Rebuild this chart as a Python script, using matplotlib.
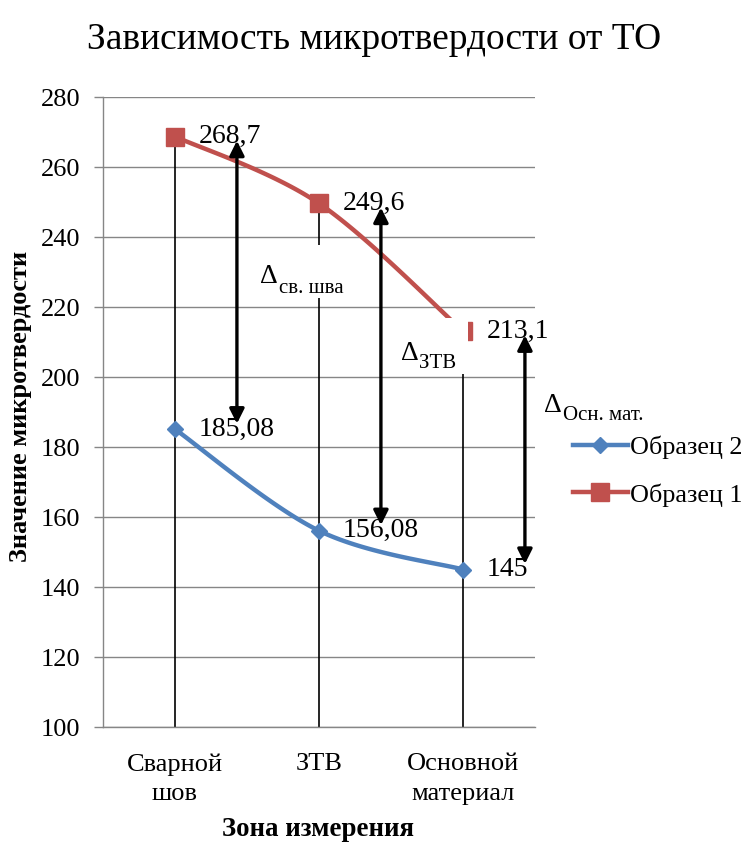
import numpy as np
import matplotlib
matplotlib.use("Agg")
import matplotlib.pyplot as plt
from matplotlib.lines import Line2D
from matplotlib.patches import Rectangle

# Measurement zones and microhardness values
zones = ["Сварной\nшов", "ЗТВ", "Основной\nматериал"]
sample1 = [268.7, 249.6, 213.1]
sample2 = [185.08, 156.08, 145]
labels1 = ["268,7", "249,6", "213,1"]
labels2 = ["185,08", "156,08", "145"]
yticks = [100, 120, 140, 160, 180, 200, 220, 240, 260, 280]
delta_main = "\u0394"
delta_subs = ["св. шва", "ЗТВ", "Осн. мат."]

RED = "#C0504D"
BLUE = "#4F81BD"
GRID = "#868686"

plt.rcParams["font.family"] = ["Liberation Serif", "DejaVu Serif"]

W, H = 749, 844
fig = plt.figure(figsize=(W / 100, H / 100), dpi=100)
ax = fig.add_axes([103 / W, 1 - 727 / H, (535 - 103) / W, (727 - 97) / H])


def smooth(xs, ys, n=50):
    """Bezier smoothing through the points (Catmull-Rom style tangents)."""
    P = np.column_stack([xs, ys]).astype(float)
    out = []
    for i in range(len(P) - 1):
        p0 = P[i - 1] if i > 0 else P[i]
        p1, p2 = P[i], P[i + 1]
        p3 = P[i + 2] if i + 2 < len(P) else P[i + 1]
        c1 = p1 + (p2 - p0) / 6
        c2 = p2 - (p3 - p1) / 6
        t = np.linspace(0, 1, n)[:, None]
        seg = (1 - t) ** 3 * p1 + 3 * (1 - t) ** 2 * t * c1 + 3 * (1 - t) * t ** 2 * c2 + t ** 3 * p2
        out.append(seg if i == 0 else seg[1:])
    return np.vstack(out)


x = np.arange(len(zones))

ax.set_xlim(-0.5, len(zones) - 0.5)
ax.set_ylim(yticks[0], yticks[-1])
ax.set_yticks(yticks)
ax.set_xticks(x)
ax.set_xticklabels(zones, fontsize=19, linespacing=1.44)
ax.tick_params(axis="y", labelsize=19, length=6.5, color=GRID, width=1, pad=10)
ax.tick_params(axis="x", length=0, pad=19)
ax.grid(axis="y", color=GRID, lw=1)
ax.set_axisbelow(True)
for s in ["top", "right"]:
    ax.spines[s].set_visible(False)
for s in ["left", "bottom"]:
    ax.spines[s].set_color(GRID)
    ax.spines[s].set_linewidth(1)

# Drop lines from the upper series to the category axis
ax.vlines(x, yticks[0], np.maximum(sample1, sample2), color="black", lw=1.2, zorder=1.5)

c1 = smooth(x, sample1)
c2 = smooth(x, sample2)
ax.plot(c2[:, 0], c2[:, 1], color=BLUE, lw=3.2, zorder=3, solid_capstyle="round")
ax.plot(x, sample2, ls="none", marker="D", ms=8.5, color=BLUE, zorder=3.1)
ax.plot(c1[:, 0], c1[:, 1], color=RED, lw=3.2, zorder=3.2, solid_capstyle="round")
ax.plot(x, sample1, ls="none", marker="s", ms=13, color=RED, zorder=3.3)

# Data labels
for xi, v, t in zip(x, sample1, labels1):
    ax.annotate(t, (xi, v), xytext=(17, 0), textcoords="offset points",
                va="center", ha="left", fontsize=20, zorder=5)
for xi, v, t in zip(x, sample2, labels2):
    ax.annotate(t, (xi, v), xytext=(17, 0), textcoords="offset points",
                va="center", ha="left", fontsize=20, zorder=5)

# Difference arrows between the two samples
for xi, top, bot in zip(x, sample1, sample2):
    ax.annotate("", xy=(xi + 0.43, bot), xytext=(xi + 0.43, top),
                arrowprops=dict(arrowstyle="<|-|>", color="black", lw=2.4,
                                mutation_scale=22, shrinkA=3, shrinkB=4),
                zorder=6, annotation_clip=False)


def delta_label(xd, yd, sub, drop, box=None):
    if box is not None:
        ax.add_patch(Rectangle((box[0], box[1]), box[2], box[3], facecolor="white",
                               edgecolor="none", zorder=4))
    d = ax.text(xd, yd, delta_main, fontsize=20, ha="left", va="baseline",
                zorder=5.5, clip_on=False)
    ax.annotate(sub, xy=(1.0, 0.0), xycoords=d, xytext=(0.5, -drop),
                textcoords="offset points", fontsize=15, ha="left",
                va="baseline", zorder=5.5, annotation_clip=False)


delta_label(0.592, 226.9, delta_subs[0], 3, box=(0.557, 222.6, 0.66, 15.1))
delta_label(1.568, 204.9, delta_subs[1], 1.5, box=(1.484, 200.9, 0.551, 16.0))
delta_label(2.564, 190.0, delta_subs[2], 1.5)

fig.text(318 / W, 1 - 829 / H, "Зона измерения", ha="center", va="center",
         fontsize=19.4, fontweight="bold")
fig.text(21 / W, 1 - 406 / H, "Значение микротвердости", ha="center", va="center",
         rotation=90, fontsize=19, fontweight="bold")

fig.text(0.5, 1 - 40 / H, "Зависимость микротвердости от ТО", ha="center",
         va="center", fontsize=27)

handles = [
    Line2D([], [], color=BLUE, lw=3.2, marker="D", ms=8.5),
    Line2D([], [], color=RED, lw=3.2, marker="s", ms=13),
]
fig.legend(handles, ["Образец 2", "Образец 1"], loc="center left",
           bbox_to_anchor=(560 / W, 1 - 471 / H), frameon=False, fontsize=18.8,
           handlelength=2.1, handletextpad=0.1, labelspacing=0.92, borderpad=0)

fig.savefig("out.png", dpi=100, facecolor="white")
